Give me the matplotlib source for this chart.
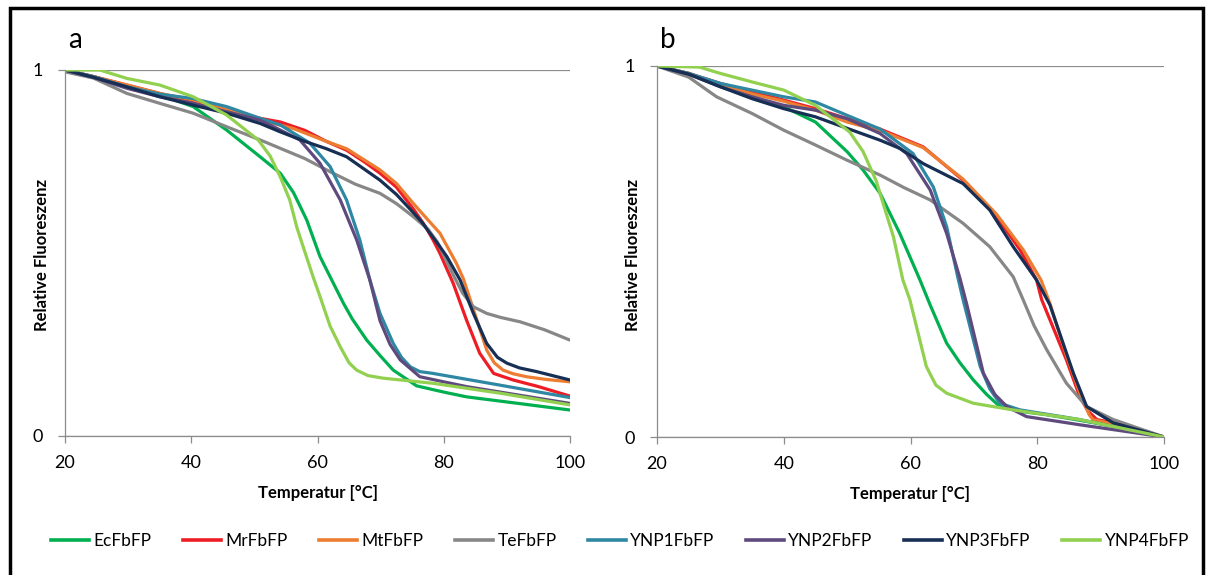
import matplotlib
matplotlib.use("Agg")
import matplotlib.pyplot as plt
from matplotlib.patches import Rectangle
from matplotlib.lines import Line2D

plt.rcParams['font.family'] = ['Lato', 'DejaVu Sans']

series_names = ["EcFbFP", "MrFbFP", "MtFbFP", "TeFbFP", "YNP1FbFP", "YNP2FbFP", "YNP3FbFP", "YNP4FbFP"]
series_colors = ["#00b050", "#ee1c25", "#ed7d31", "#878787", "#2e87a3", "#5f4a7e", "#172f55", "#92d050"]

x_ticks = [20, 40, 60, 80, 100]
y_ticks = [0, 1]

# ---- Panel a ----
a_Ec_T = [20, 24.5, 29.8, 35, 40.3, 45.6, 50.9, 54.1, 56.2, 58.3, 60.4, 62, 64.1, 65.5, 67.8, 70, 72, 75.7, 80, 83.6, 90, 95, 100]
a_Ec_V = [1.0, 0.982, 0.955, 0.932, 0.9, 0.836, 0.763, 0.718, 0.665, 0.59, 0.49, 0.435, 0.363, 0.32, 0.262, 0.218, 0.18, 0.137, 0.12, 0.107, 0.093, 0.082, 0.071]

a_Mr_T = [20, 24.5, 29.8, 35, 40.3, 45.6, 50.9, 54.1, 58, 61.4, 64.6, 67.5, 69.9, 72.5, 75.2, 77, 78.3, 79.4, 81.5, 83.6, 85.7, 87.9, 91, 95, 100]
a_Mr_V = [1.0, 0.982, 0.959, 0.936, 0.913, 0.891, 0.868, 0.858, 0.835, 0.805, 0.781, 0.748, 0.718, 0.68, 0.62, 0.575, 0.536, 0.499, 0.417, 0.317, 0.226, 0.171, 0.153, 0.135, 0.109]

a_Mt_T = [20, 24.5, 29.8, 35, 40.3, 45.6, 50.9, 56.2, 61.4, 64.6, 69.9, 72.5, 75.2, 77, 79.4, 82, 83.1, 85, 86.8, 88, 89.4, 91, 93.1, 96, 100]
a_Mt_V = [1.0, 0.982, 0.959, 0.936, 0.918, 0.891, 0.863, 0.84, 0.805, 0.785, 0.727, 0.69, 0.635, 0.6, 0.554, 0.472, 0.43, 0.33, 0.235, 0.2, 0.18, 0.17, 0.162, 0.155, 0.148]

a_Te_T = [20, 24.5, 29.8, 35, 40.3, 45.6, 50.9, 54.1, 58, 62, 66, 69.9, 72.5, 75.2, 77.5, 79, 81.5, 83, 84.7, 86.8, 89, 92.1, 96, 100]
a_Te_V = [0.995, 0.978, 0.936, 0.909, 0.882, 0.845, 0.809, 0.786, 0.758, 0.722, 0.688, 0.663, 0.635, 0.599, 0.565, 0.53, 0.44, 0.39, 0.353, 0.335, 0.324, 0.312, 0.29, 0.262]

a_Y1_T = [20, 24.5, 29.8, 35, 40.3, 45.6, 50.9, 54.1, 58.8, 62, 64.6, 66.7, 68.3, 69.9, 72, 73.3, 74.7, 76.2, 78.3, 88.9, 100]
a_Y1_V = [1.0, 0.982, 0.954, 0.934, 0.922, 0.9, 0.868, 0.85, 0.8, 0.736, 0.645, 0.536, 0.426, 0.335, 0.253, 0.215, 0.189, 0.176, 0.171, 0.139, 0.105]

a_Y2_T = [20, 24.5, 29.8, 35, 40.3, 45.6, 50.9, 54.1, 57.2, 60.4, 63.6, 66.2, 68.3, 69.9, 71.5, 73.1, 76.2, 80, 83.6, 90, 100]
a_Y2_V = [1.0, 0.98, 0.95, 0.927, 0.909, 0.886, 0.863, 0.836, 0.809, 0.745, 0.645, 0.536, 0.426, 0.315, 0.25, 0.208, 0.162, 0.148, 0.135, 0.117, 0.089]

a_Y3_T = [20, 24.5, 29.8, 35, 40.3, 45.6, 50.9, 54.1, 58, 61.4, 64.6, 69.9, 72.5, 75.2, 76.5, 79.4, 80.5, 82.6, 84.7, 86.8, 88.5, 90, 92, 94.7, 100]
a_Y3_V = [1.0, 0.98, 0.954, 0.927, 0.904, 0.882, 0.854, 0.831, 0.805, 0.785, 0.763, 0.699, 0.66, 0.61, 0.585, 0.517, 0.49, 0.426, 0.335, 0.253, 0.215, 0.199, 0.186, 0.176, 0.153]

a_Y4_T = [20, 25.5, 29.8, 35, 40.3, 45.6, 50.6, 52.5, 54.1, 55.6, 56.7, 57.2, 59.3, 60.4, 62, 63.6, 65, 66.2, 68, 70.4, 78.3, 88.9, 100]
a_Y4_V = [1.0, 1.0, 0.977, 0.959, 0.927, 0.877, 0.809, 0.765, 0.708, 0.645, 0.572, 0.545, 0.435, 0.381, 0.3, 0.244, 0.2, 0.18, 0.165, 0.158, 0.144, 0.117, 0.085]

# ---- Panel b ----
b_Ec_T = [20, 25, 30, 35, 40, 45, 50, 52.5, 55.2, 58.3, 61.5, 63.1, 65.7, 67.8, 69.9, 72, 74.1, 77, 81.5, 86.7, 92, 100]
b_Ec_V = [1.0, 0.98, 0.948, 0.917, 0.89, 0.849, 0.769, 0.72, 0.657, 0.549, 0.423, 0.356, 0.253, 0.2, 0.154, 0.115, 0.082, 0.07, 0.06, 0.045, 0.029, 0.0]

b_Mr_T = [20, 25, 30, 35, 40, 45, 50, 55.2, 62, 68.3, 73.6, 77.3, 79.9, 80.7, 84.6, 86.7, 88, 89.4, 94.6, 100]
b_Mr_V = [1.0, 0.98, 0.953, 0.93, 0.908, 0.885, 0.858, 0.83, 0.782, 0.692, 0.594, 0.504, 0.423, 0.37, 0.208, 0.109, 0.07, 0.047, 0.029, 0.0]

b_Mt_T = [20, 25, 30, 35, 40, 45, 50, 55.7, 62, 68.3, 73.6, 77.8, 80.6, 82, 84.6, 86.7, 88.2, 88.8, 92, 100]
b_Mt_V = [1.0, 0.98, 0.95, 0.925, 0.905, 0.881, 0.849, 0.823, 0.78, 0.695, 0.6, 0.504, 0.423, 0.36, 0.22, 0.12, 0.06, 0.047, 0.035, 0.0]

b_Te_T = [20, 25, 29.4, 35, 40, 45, 50, 55.2, 59, 63.1, 68.3, 72.5, 76.2, 77.8, 79.5, 81.5, 84.6, 87.8, 92, 100]
b_Te_V = [1.0, 0.97, 0.917, 0.872, 0.827, 0.787, 0.746, 0.706, 0.672, 0.639, 0.576, 0.513, 0.432, 0.369, 0.3, 0.235, 0.145, 0.082, 0.047, 0.0]

b_Y1_T = [20, 25, 30, 35, 40, 45, 50, 55.2, 60.4, 63.6, 65.7, 67.5, 68.3, 71, 72.5, 74.1, 77.3, 86.7, 100]
b_Y1_V = [1.0, 0.98, 0.953, 0.935, 0.917, 0.903, 0.867, 0.83, 0.764, 0.674, 0.567, 0.428, 0.37, 0.19, 0.13, 0.091, 0.073, 0.047, 0.0]

b_Y2_T = [20, 25, 30, 35, 40, 45, 50, 55.2, 59.4, 63.1, 65.7, 67.8, 68.9, 71.5, 73.3, 75.2, 78.3, 86.7, 100]
b_Y2_V = [1.0, 0.978, 0.944, 0.917, 0.894, 0.881, 0.858, 0.818, 0.764, 0.666, 0.549, 0.428, 0.356, 0.172, 0.115, 0.082, 0.055, 0.033, 0.0]

b_Y3_T = [20, 25, 30, 35, 40, 45, 50, 55.2, 58.3, 62, 68.3, 72.5, 76.2, 79.9, 82, 85.7, 87.8, 92, 100]
b_Y3_V = [1.0, 0.978, 0.944, 0.912, 0.885, 0.863, 0.832, 0.8, 0.778, 0.737, 0.683, 0.612, 0.513, 0.423, 0.356, 0.172, 0.082, 0.038, 0.0]

b_Y4_T = [20, 26.7, 30, 35, 40, 45, 50.4, 52.5, 54.6, 55.4, 57.3, 58.8, 59.9, 62.5, 64, 65.7, 69.9, 76.2, 86.7, 100]
b_Y4_V = [1.0, 0.997, 0.98, 0.957, 0.935, 0.894, 0.822, 0.77, 0.69, 0.645, 0.54, 0.423, 0.37, 0.19, 0.14, 0.118, 0.091, 0.073, 0.047, 0.0]

panel_a = [(a_Ec_T, a_Ec_V), (a_Mr_T, a_Mr_V), (a_Mt_T, a_Mt_V), (a_Te_T, a_Te_V),
           (a_Y1_T, a_Y1_V), (a_Y2_T, a_Y2_V), (a_Y3_T, a_Y3_V), (a_Y4_T, a_Y4_V)]
panel_b = [(b_Ec_T, b_Ec_V), (b_Mr_T, b_Mr_V), (b_Mt_T, b_Mt_V), (b_Te_T, b_Te_V),
           (b_Y1_T, b_Y1_V), (b_Y2_T, b_Y2_V), (b_Y3_T, b_Y3_V), (b_Y4_T, b_Y4_V)]

W, H = 1214, 575
fig = plt.figure(figsize=(W / 100, H / 100), dpi=100)

def px_rect(l, r, t, b):
    return [l / W, 1 - b / H, (r - l) / W, (b - t) / H]

axA = fig.add_axes(px_rect(65, 570, 70, 436))
axB = fig.add_axes(px_rect(657, 1164, 66, 437))

grid_col = "#8c8c8c"
for ax, data in ((axA, panel_a), (axB, panel_b)):
    for (T, V), name, col in zip(data, series_names, series_colors):
        ax.plot(T, V, color=col, lw=2.3, label=name, solid_capstyle='round', solid_joinstyle='round')
    ax.set_xlim(20, 100)
    ax.set_ylim(0, 1)
    ax.set_xticks(x_ticks)
    ax.set_yticks(y_ticks)
    ax.set_yticklabels([str(v) for v in y_ticks])
    for s in ("top", "right"):
        ax.spines[s].set_visible(False)
    for s in ("left", "bottom"):
        ax.spines[s].set_color(grid_col)
        ax.spines[s].set_linewidth(0.9)
    ax.yaxis.grid(True, color=grid_col, lw=0.9)
    ax.set_axisbelow(True)
    ax.tick_params(axis='both', colors=grid_col, length=5, width=0.9, labelcolor='black', labelsize=13)
    ax.tick_params(axis='x', pad=9)
    ax.tick_params(axis='y', pad=11)
    ax.set_xlabel("Temperatur [°C]", fontsize=12, fontweight='bold', labelpad=10)
    for sp in ax.spines.values():
        sp.set_clip_on(False)

fig.text(42 / W, 1 - 255 / H, "Relative Fluoreszenz", rotation=90, ha='center', va='center', fontsize=12, fontweight='bold')
fig.text(633 / W, 1 - 255 / H, "Relative Fluoreszenz", rotation=90, ha='center', va='center', fontsize=12, fontweight='bold')
fig.text(75 / W, 1 - 40 / H, "a", ha='center', va='center', fontsize=20)
fig.text(668 / W, 1 - 40 / H, "b", ha='center', va='center', fontsize=20)

handles = [Line2D([0], [0], color=c, lw=2.6) for c in series_colors]
fig.legend(handles, series_names, loc='center', bbox_to_anchor=(620 / W, 1 - 541 / H), ncol=8,
           frameon=False, fontsize=12.5, handlelength=2.2, handletextpad=0.25, columnspacing=1.8)

fig.patches.append(Rectangle((10 / W, -0.05), (1203 - 10) / W, 1 - 8 / H + 0.05, transform=fig.transFigure,
                             fill=False, edgecolor='black', lw=2.5, figure=fig))

fig.savefig("out.png", dpi=100)
